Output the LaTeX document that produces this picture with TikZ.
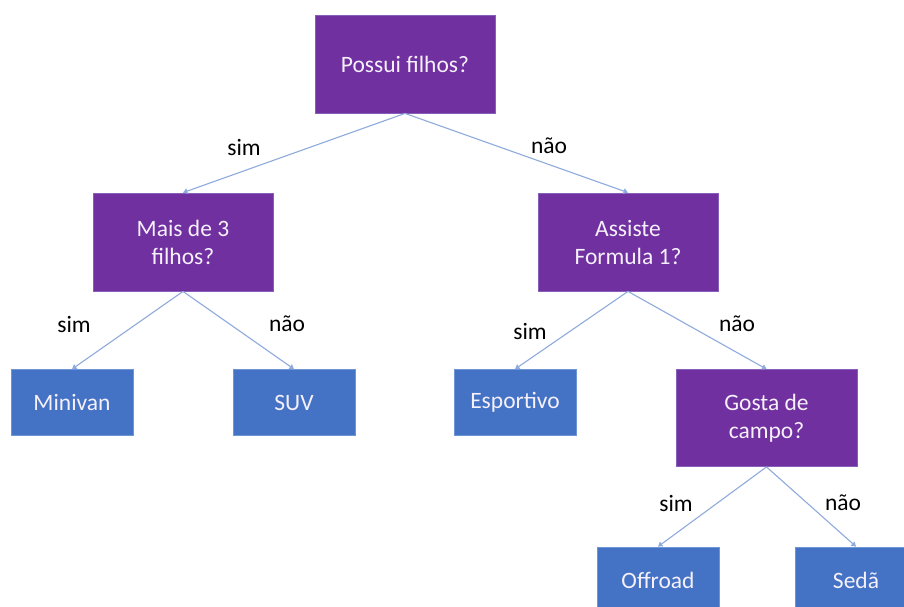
\documentclass[tikz,border=0pt]{standalone}
\usepackage{fontspec}
\setmainfont{Carlito}
\usetikzlibrary{arrows.meta}
\definecolor{qpurple}{RGB}{112,48,160}
\definecolor{qpurpleedge}{RGB}{135,95,185}
\definecolor{qblue}{RGB}{68,114,196}
\definecolor{qblueedge}{RGB}{110,150,215}
\definecolor{qline}{RGB}{143,170,220}
\definecolor{qtext}{RGB}{245,240,250}
\tikzset{
  question/.style={rectangle, fill=qpurple, draw=qpurpleedge, line width=0.8pt,
    minimum width=180pt, minimum height=98pt, inner sep=0pt, align=center,
    text=qtext, font=\fontsize{23.5}{28}\selectfont},
  leaf/.style={rectangle, fill=qblue, draw=qblueedge, line width=0.8pt,
    minimum width=122pt, minimum height=66pt, inner sep=0pt, align=center,
    text=qtext, font=\fontsize{23.5}{28}\selectfont},
  branch/.style={draw=qline, line width=1.1pt, -{Triangle[length=4.5pt,width=5.5pt]}},
  lab/.style={font=\fontsize{23.5}{28}\selectfont, text=black, inner sep=0pt}
}
\begin{document}
\begin{tikzpicture}[x=1pt,y=-1pt]
\clip (0,0) rectangle (904,606);
\fill[white] (0,0) rectangle (904,606);
\node[question] (root) at (405,64) {Possui filhos?};
\node[question] (mais) at (183,242) {Mais de 3\\filhos?};
\node[question] (assiste) at (628,242) {Assiste\\Formula 1?};
\node[leaf] (minivan) at (72,402.5) {Minivan};
\node[leaf] (suv) at (294,402.5) {SUV};
\node[leaf] (esportivo) at (515,402.5) {Esportivo};
\node[question, minimum width=181pt, minimum height=97pt] (gosta) at (766.5,418) {Gosta de\\campo?};
\node[leaf] (offroad) at (658,580) {Offroad};
\node[leaf] (seda) at (856,580) {Sedã};

\draw[branch] (root.south) -- (mais.north);
\draw[branch] (root.south) -- (assiste.north);
\draw[branch] (mais.south) -- (minivan.north);
\draw[branch] (mais.south) -- (suv.north);
\draw[branch] (assiste.south) -- (esportivo.north);
\draw[branch] (assiste.south) -- (gosta.north);
\draw[branch] (gosta.south) -- (offroad.north);
\draw[branch] (gosta.south) -- (seda.north);

\node[lab] (l1) at (244,147) {sim};
\node[lab] (l2) at (549,146) {não};
\node[lab] (l3) at (74,324) {sim};
\node[lab] (l4) at (287,324) {não};
\node[lab] (l5) at (530,331) {sim};
\node[lab] (l6) at (737,324) {não};
\node[lab] (l7) at (676,503) {sim};
\node[lab] (l8) at (843,503) {não};
\end{tikzpicture}
\end{document}
